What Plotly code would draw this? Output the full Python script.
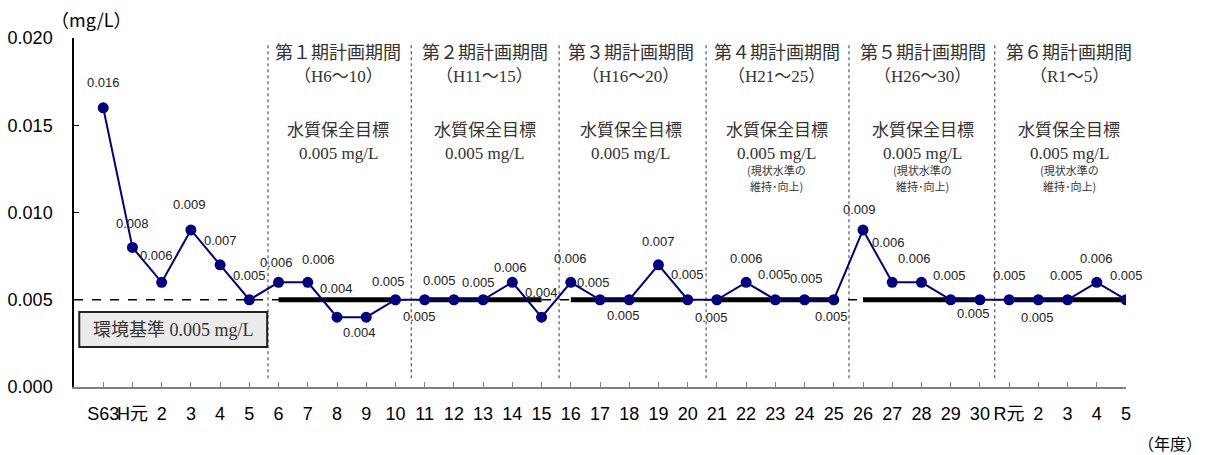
import plotly.graph_objects as go

# ---- data ----
years = ["S63", "H元", "2", "3", "4", "5", "6", "7", "8", "9", "10",
         "11", "12", "13", "14", "15", "16", "17", "18", "19", "20",
         "21", "22", "23", "24", "25", "26", "27", "28", "29", "30",
         "R元", "2", "3", "4", "5"]
values = [0.016, 0.008, 0.006, 0.009, 0.007, 0.005, 0.006, 0.006, 0.004, 0.004, 0.005,
          0.005, 0.005, 0.005, 0.006, 0.004, 0.006, 0.005, 0.005, 0.007, 0.005,
          0.005, 0.006, 0.005, 0.005, 0.005, 0.009, 0.006, 0.006, 0.005, 0.005,
          0.005, 0.005, 0.005, 0.006, 0.005]
ytick_vals = [0.000, 0.005, 0.010, 0.015, 0.020]
standard = 0.005
period_titles = ["第１期計画期間", "第２期計画期間", "第３期計画期間",
                 "第４期計画期間", "第５期計画期間", "第６期計画期間"]
period_ranges = ["（H6～10）", "（H11～15）", "（H16～20）",
                 "（H21～25）", "（H26～30）", "（R1～5）"]
period_start = [6, 11, 16, 21, 26, 31]   # index into years
period_end = [10, 15, 20, 25, 30, 35]
period_target = [0.005, 0.005, 0.005, 0.005, 0.005, 0.005]
period_note = [False, False, False, True, True, True]

# ---- label offsets (pixels, style only) ----
label_dx = [0, 0, -5, -1, 0, 0, -2, 11, -1, -7, -7,
            -5, -14, -5, -2, 0, 0, -7, -6, 0, 0,
            -5, 0, -1, 2, -2, -4, -4, -7, -1, -6,
            0, -1, -1, 0, 0]
label_dy = [-25, -24, -27, -25, -24, -24, -20, -23, -29, 15, -18,
            17, -19, -17, -15, -25, -24, -17, 16, -23, -25,
            18, -24, -25, -21, 17, -20, -40, -24, -24, 14,
            -24, 18, -24, -24, -24]
sep_x = [5.64, 10.54, 15.60, 20.63, 25.52, 30.51]

NAVY = "#000080"
SANS = "Liberation Sans, Arial, Noto Sans CJK JP"
SERIF = "Liberation Serif, Noto Sans CJK JP"
JP = "Noto Sans CJK JP"

xs = list(range(len(years)))

fig = go.Figure()
fig.add_trace(go.Scatter(
    x=xs, y=values, mode="lines+markers",
    line=dict(color=NAVY, width=2),
    marker=dict(color=NAVY, size=11),
    hoverinfo="skip", showlegend=False,
))

shapes = []
shapes.append(dict(type="line", xref="x", yref="y", x0=-1, x1=35, y0=standard, y1=standard,
                   line=dict(color="black", width=1.5, dash="dash"), layer="below"))
for s, e, t in zip(period_start, period_end, period_target):
    shapes.append(dict(type="line", xref="x", yref="y", x0=s, x1=e, y0=t, y1=t,
                       line=dict(color="black", width=5), layer="below"))
for sx in sep_x:
    shapes.append(dict(type="line", xref="x", yref="y", x0=sx, x1=sx, y0=0.0005, y1=0.0196,
                       line=dict(color="#333", width=1, dash="dot"), layer="below"))
shapes.append(dict(type="rect", xref="x", yref="y", x0=-0.82, x1=5.61, y0=0.00229, y1=0.00430,
                   line=dict(color="#222", width=2), fillcolor="#ebebeb", layer="above"))

annotations = []
for i, v in enumerate(values):
    annotations.append(dict(x=i, y=v, xref="x", yref="y", text=f"{v:.3f}", showarrow=False,
                            xshift=label_dx[i], yshift=-label_dy[i],
                            font=dict(family=SANS, size=13, color="#222")))

def py(p):
    return (387 - p) * 0.02 / 349

for k in range(6):
    cx = (period_start[k] + period_end[k]) / 2 + 0.05
    annotations.append(dict(x=cx, y=py(53), xref="x", yref="y", text=period_titles[k],
                            showarrow=False, font=dict(family=SERIF, size=18, color="#333")))
    annotations.append(dict(x=cx, y=py(76), xref="x", yref="y", text=period_ranges[k],
                            showarrow=False, font=dict(family=SERIF, size=17, color="#333")))
    annotations.append(dict(x=cx, y=py(130), xref="x", yref="y", text="水質保全目標",
                            showarrow=False, font=dict(family=SERIF, size=17, color="#333")))
    annotations.append(dict(x=cx, y=py(153), xref="x", yref="y",
                            text=f"{period_target[k]:.3f} mg/L",
                            showarrow=False, font=dict(family=SERIF, size=17, color="#333")))
    if period_note[k]:
        annotations.append(dict(x=cx, y=py(170), xref="x", yref="y", text="(現状水準の",
                                showarrow=False, font=dict(family=JP, size=11, color="#333")))
        annotations.append(dict(x=cx, y=py(186), xref="x", yref="y", text="維持･向上)",
                                showarrow=False, font=dict(family=JP, size=11, color="#333")))

annotations.append(dict(x=(-0.82 + 5.61) / 2, y=(0.00229 + 0.00430) / 2, xref="x", yref="y",
                        text=f"環境基準 {standard:.3f} mg/L", showarrow=False,
                        font=dict(family=SERIF, size=18, color="#333")))
annotations.append(dict(x=91, y=436, xref="paper", yref="paper", text="（mg/L）", showarrow=False,
                        xanchor="center", yanchor="middle",
                        font=dict(family=JP, size=18, color="black")))
annotations.append(dict(x=1170, y=12, xref="paper", yref="paper", text="（年度）", showarrow=False,
                        xanchor="center", yanchor="middle",
                        font=dict(family=JP, size=16, color="black")))

for a in annotations:
    if a.get("xref") == "paper":
        a["x"] = (a["x"] - 74) / 1052
        a["y"] = (a["y"] - 68) / 349

fig.update_layout(
    width=1206, height=455,
    margin=dict(l=74, r=80, t=38, b=68, autoexpand=False),
    plot_bgcolor="white", paper_bgcolor="white",
    shapes=shapes, annotations=annotations,
    xaxis=dict(range=[-1, 35], tickmode="array", tickvals=xs, ticktext=years,
               tickangle=0, automargin=False,
               showgrid=False, zeroline=False, showline=True, linecolor="#808080", linewidth=1.5,
               ticks="inside", ticklen=5, tickcolor="#808080", tickwidth=1,
               ticklabelstandoff=10,
               tickfont=dict(family=SANS, size=18, color="black")),
    yaxis=dict(range=[0, 0.02], tickmode="array", tickvals=ytick_vals,
               ticktext=[f"{v:.3f}" for v in ytick_vals], automargin=False,
               showgrid=False, zeroline=False, showline=True, linecolor="black", linewidth=1.5,
               ticks="inside", ticklen=5, tickcolor="black",
               ticklabelstandoff=16,
               tickfont=dict(family=SANS, size=18, color="black")),
)

fig.write_html("out.html", config={"displayModeBar": False},
               post_script="document.body.style.margin='0';")
